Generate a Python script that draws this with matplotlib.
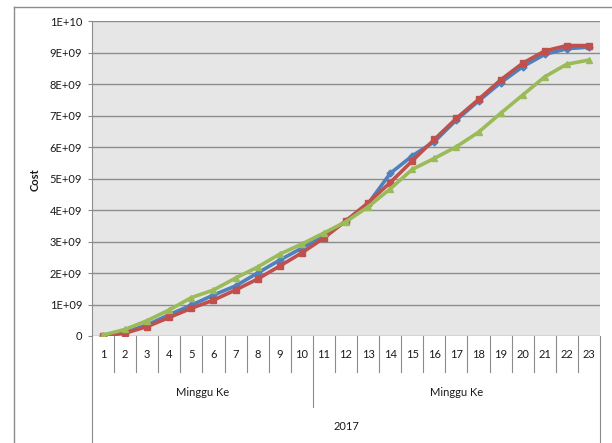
import matplotlib
matplotlib.use("Agg")
import matplotlib.pyplot as plt
from matplotlib.lines import Line2D

# Week numbers on the category axis
weeks = list(range(1, 24))

# Cumulative cost series
cost_blue = [0.0e9, 0.12e9, 0.35e9, 0.68e9, 0.98e9, 1.30e9, 1.59e9, 2.00e9, 2.41e9, 2.79e9,
             3.17e9, 3.65e9, 4.20e9, 5.16e9, 5.72e9, 6.17e9, 6.86e9, 7.46e9, 8.04e9, 8.55e9,
             8.94e9, 9.12e9, 9.17e9]
cost_red = [0.0e9, 0.09e9, 0.30e9, 0.59e9, 0.88e9, 1.14e9, 1.46e9, 1.81e9, 2.22e9, 2.64e9,
            3.11e9, 3.66e9, 4.23e9, 4.87e9, 5.56e9, 6.24e9, 6.91e9, 7.51e9, 8.13e9, 8.66e9,
            9.05e9, 9.22e9, 9.22e9]
cost_green = [0.03e9, 0.21e9, 0.49e9, 0.83e9, 1.22e9, 1.46e9, 1.84e9, 2.19e9, 2.60e9, 2.92e9,
              3.27e9, 3.63e9, 4.10e9, 4.67e9, 5.29e9, 5.64e9, 6.01e9, 6.47e9, 7.07e9, 7.65e9,
              8.23e9, 8.63e9, 8.76e9]

y_ticks = [0, 1e9, 2e9, 3e9, 4e9, 5e9, 6e9, 7e9, 8e9, 9e9, 1e10]
y_tick_labels = ["0", "1E+09", "2E+09", "3E+09", "4E+09", "5E+09",
                 "6E+09", "7E+09", "8E+09", "9E+09", "1E+10"]

group_labels = ["Minggu Ke", "Minggu Ke"]
group_spans = [(1, 10), (11, 23)]
year_label = "2017"

plt.rcParams["font.family"] = ["Lato", "DejaVu Sans"]

W, H = 612, 443
fig = plt.figure(figsize=(W / 100, H / 100), dpi=100)

# Outer chart frame (top and left edges)
fig.add_artist(Line2D([14 / W, 1.0], [1 - 7 / H, 1 - 7 / H], color="#8c8c8c", lw=1.0))
fig.add_artist(Line2D([14 / W, 14 / W], [0, 1 - 7 / H], color="#8c8c8c", lw=1.0))

left, right, top, bottom = 92, 600, 21, 336
ax = fig.add_axes([left / W, 1 - bottom / H, (right - left) / W, (bottom - top) / H])
ax.set_facecolor("#e6e6e6")

ax.set_xlim(0.5, 23.5)
ax.set_ylim(0, 1e10)

ax.set_yticks(y_ticks)
ax.set_yticklabels(y_tick_labels)
ax.yaxis.grid(True, color="#8c8c8c", lw=1.0)
ax.set_axisbelow(True)
ax.tick_params(axis="y", length=3, width=0.8, color="#8c8c8c", labelsize=8, pad=4,
               labelcolor="#1a1a1a")

for s in ["top", "right", "bottom"]:
    ax.spines[s].set_visible(False)
ax.spines["left"].set_color("#8c8c8c")
ax.spines["left"].set_linewidth(0.8)

# Category labels (weeks)
ax.set_xticks(weeks)
ax.set_xticklabels([str(w) for w in weeks])
ax.tick_params(axis="x", length=0, labelsize=8, pad=9, labelcolor="#1a1a1a")

# Series
ax.plot(weeks, cost_blue, color="#4f81bd", lw=2.6, marker="D", ms=3.5, zorder=3)
ax.plot(weeks, cost_red, color="#c0504d", lw=2.6, marker="s", ms=4.5, zorder=4)
ax.plot(weeks, cost_green, color="#9bbb59", lw=2.6, marker="^", ms=4.5, zorder=5)

# Multi-level category axis dividers
xt = ax.get_xaxis_transform()
px = 1.0 / (bottom - top)  # one pixel in axes-fraction units (vertical)
for b in range(1, 23):
    x = b + 0.5
    if x == 10.5:
        y_end = -(407 - bottom) * px
    else:
        y_end = -(372 - bottom) * px
    ax.add_line(Line2D([x, x], [0, y_end], transform=xt, color="#8c8c8c", lw=0.8,
                       clip_on=False))
for x in (0.5, 23.5):
    ax.add_line(Line2D([x, x], [0, -(H - bottom) * px], transform=xt, color="#8c8c8c",
                       lw=0.8, clip_on=False))

for label, (a, b) in zip(group_labels, group_spans):
    ax.text((a + b) / 2, -(392 - bottom) * px, label, transform=xt, ha="center",
            va="center", fontsize=8, color="#1a1a1a")
ax.text((group_spans[0][0] + group_spans[-1][1]) / 2, -(427 - bottom) * px, year_label,
        transform=xt, ha="center", va="center", fontsize=8, color="#1a1a1a")

fig.text(35 / W, 1 - 180 / H, "Cost", rotation=90, ha="center", va="center",
         fontsize=8, fontweight="bold", color="#1a1a1a")

fig.savefig("out.png", dpi=100)
